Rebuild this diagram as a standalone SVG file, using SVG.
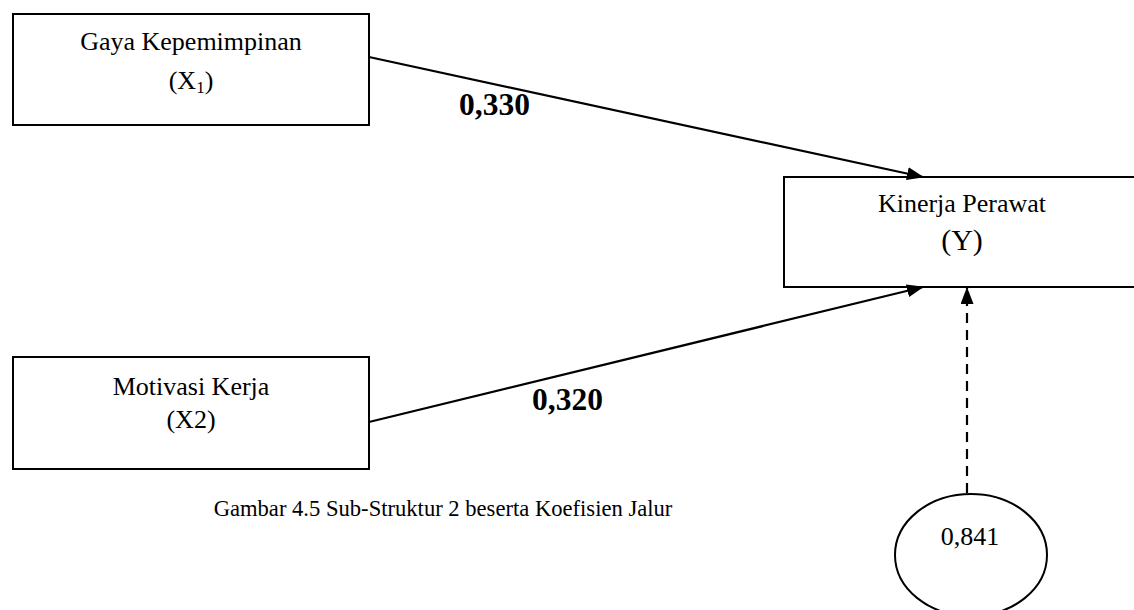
<svg xmlns="http://www.w3.org/2000/svg" width="1134" height="610" viewBox="0 0 1134 610">
<style>
.box{fill:#fff;stroke:#000;stroke-width:2}
.t{font-family:"Liberation Serif","Times New Roman",serif;fill:#000;text-anchor:middle}
.lbl{font-family:"Liberation Serif","Times New Roman",serif;font-weight:bold;font-size:31.5px;fill:#000}
.c{stroke:#000;stroke-width:2.2;fill:none}
</style>
<defs>
<marker id="ah" markerWidth="17" markerHeight="13" refX="16" refY="6.5" orient="auto" markerUnits="userSpaceOnUse">
<path d="M0,0 L17,6.5 L0,13 Z" fill="#000"/>
</marker>
</defs>
<rect width="1134" height="610" fill="#fff"/>
<g id="nodeX1">
<rect class="box" x="13" y="14" width="356" height="111"/>
<text class="t" x="191" y="50" font-size="26">Gaya Kepemimpinan</text>
<text class="t" x="191" y="89" font-size="26">(X<tspan font-size="17" dy="4">1</tspan><tspan dy="-4">)</tspan></text>
</g>
<g id="nodeX2">
<rect class="box" x="13" y="357" width="356" height="112"/>
<text class="t" x="191" y="395" font-size="26">Motivasi Kerja</text>
<text class="t" x="191" y="428" font-size="26">(X2)</text>
</g>
<g id="nodeY">
<rect class="box" x="784" y="177" width="360" height="110"/>
<text class="t" x="962" y="212" font-size="26">Kinerja Perawat</text>
<text class="t" x="962" y="250" font-size="30">(Y)</text>
</g>
<g id="nodeE">
<ellipse cx="971" cy="555" rx="76" ry="61" fill="#fff" stroke="#000" stroke-width="2"/>
<text class="t" x="970" y="545" font-size="26">0,841</text>
</g>
<g id="connectors">
<line class="c" x1="369" y1="57" x2="923" y2="177" marker-end="url(#ah)"/>
<line class="c" x1="369" y1="422" x2="923" y2="287" marker-end="url(#ah)"/>
<line class="c" x1="967" y1="493" x2="967" y2="288" stroke-dasharray="10,7" marker-end="url(#ah)"/>
</g>
<text class="lbl" x="459" y="115">0,330</text>
<text class="lbl" x="532" y="410">0,320</text>
<text class="t" x="443" y="516" font-size="22.6">Gambar 4.5 Sub-Struktur 2 beserta Koefisien Jalur</text>
</svg>
